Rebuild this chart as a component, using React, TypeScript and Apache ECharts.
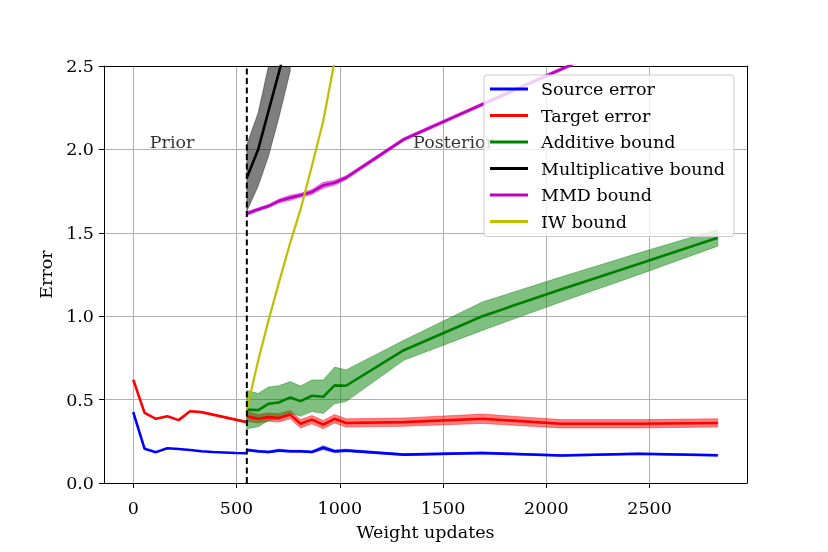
import React, { useEffect, useRef } from "react";
import * as echarts from "echarts";

const FONT = "'DejaVu Serif', 'Liberation Serif', serif";
const FS = 17.5;

// Prior phase (weight updates 0..550)
const priorX = [0, 55, 110, 165, 220, 275, 330, 385, 440, 495, 550];
const priorSource = [0.425, 0.205, 0.185, 0.208, 0.204, 0.198, 0.19, 0.186, 0.183, 0.18, 0.178];
const priorTarget = [0.62, 0.42, 0.385, 0.4, 0.377, 0.43, 0.425, 0.41, 0.395, 0.38, 0.365];

// Posterior phase
const postX = [550, 605, 655, 705, 760, 810, 865, 920, 975, 1030, 1310, 1690, 2070, 2450, 2830];
const postSource = [0.198, 0.19, 0.186, 0.195, 0.19, 0.19, 0.186, 0.212, 0.19, 0.195, 0.17, 0.18, 0.165, 0.175, 0.166];
const postSourceStd = [0.008, 0.006, 0.006, 0.008, 0.006, 0.006, 0.006, 0.012, 0.008, 0.008, 0.005, 0.006, 0.005, 0.005, 0.005];
const postTarget = [0.4, 0.385, 0.395, 0.39, 0.41, 0.355, 0.38, 0.35, 0.385, 0.36, 0.365, 0.385, 0.355, 0.355, 0.36];
const postTargetStd = [0.03, 0.025, 0.025, 0.025, 0.025, 0.025, 0.025, 0.025, 0.025, 0.025, 0.025, 0.028, 0.025, 0.025, 0.025];
const additive = [0.44, 0.437, 0.475, 0.483, 0.513, 0.491, 0.523, 0.517, 0.585, 0.583, 0.796, 1.0, 1.16, 1.315, 1.47];
const additiveStd = [0.115, 0.1, 0.1, 0.1, 0.095, 0.09, 0.095, 0.1, 0.11, 0.095, 0.06, 0.085, 0.075, 0.065, 0.05];
const mmd = [1.615, 1.64, 1.66, 1.69, 1.71, 1.725, 1.745, 1.785, 1.8, 1.83, 2.06, 2.27, 2.48, 2.69, 2.9];
const mmdStd = [0.012, 0.01, 0.01, 0.012, 0.015, 0.012, 0.015, 0.018, 0.015, 0.012, 0.01, 0.01, 0.01, 0.01, 0.01];

const multX = [550, 605, 655, 705, 760];
const mult = [1.83, 2.0, 2.23, 2.46, 2.72];
const multStd = [0.2, 0.22, 0.27, 0.27, 0.25];

const iwX = [550, 605, 655, 705, 760, 810, 865, 920, 975];
const iw = [0.44, 0.735, 0.975, 1.2, 1.44, 1.64, 1.9, 2.17, 2.53];

const phaseSplit = 550;
const annotations = [
  { x: 80, y: 2.0, text: "Prior" },
  { x: 1355, y: 2.0, text: "Posterior" },
];

const xMin = -141.5;
const xMax = 2971.5;
const xTickValues = [0, 500, 1000, 1500, 2000, 2500];
const legendNames = ["Source error", "Target error", "Additive bound", "Multiplicative bound", "MMD bound", "IW bound"];

const pairs = (xs: number[], ys: number[]) => xs.map((x, i) => [x, ys[i]]);

function band(xs: number[], mean: number[], std: number[], rgba: string) {
  return {
    type: "custom",
    name: "_band",
    silent: true,
    clip: true,
    data: [[xs[0], mean[0]]],
    encode: { x: 0, y: 1 },
    renderItem: (_params: any, api: any) => {
      const upper = xs.map((x, i) => api.coord([x, mean[i] + std[i]]));
      const lower = xs.map((x, i) => api.coord([x, mean[i] - std[i]])).reverse();
      return {
        type: "polygon",
        shape: { points: upper.concat(lower) },
        style: { fill: rgba, stroke: rgba, lineWidth: 0.8 },
      };
    },
  };
}

function line(name: string, xs: number[], ys: number[], color: string, width = 2.6) {
  return {
    type: "line", name, data: pairs(xs, ys), symbol: "none", silent: true, color,
    lineStyle: { width, color }, itemStyle: { color },
  };
}

const spine = { show: true, onZero: false, lineStyle: { color: "#000", width: 1 } };

export default function App() {
  const ref = useRef<HTMLDivElement>(null);
  useEffect(() => {
    if (!ref.current) return;
    const chart = echarts.init(ref.current, undefined, { renderer: "svg" });
    const option: any = {
      animation: false,
      textStyle: { fontFamily: FONT, color: "#000" },
      grid: { left: 104, right: 81, top: 66, bottom: 69 },
      legend: {
        data: legendNames,
        orient: "vertical",
        left: 484,
        top: 75,
        icon: "rect",
        itemWidth: 38,
        itemHeight: 3,
        itemGap: 6.5,
        selectedMode: false,
        backgroundColor: "rgba(255,255,255,0.8)",
        borderColor: "#cccccc",
        borderWidth: 1,
        borderRadius: 3,
        padding: [4, 9, 5, 6],
        textStyle: { fontFamily: FONT, fontSize: FS, color: "#000", lineHeight: 20, padding: [0, 0, 0, 8] },
      },
      xAxis: [
        {
          type: "value",
          min: xMin,
          max: xMax,
          splitNumber: 6,
          name: "Weight updates",
          nameLocation: "middle",
          nameGap: 38,
          nameTextStyle: { fontFamily: FONT, fontSize: FS, color: "#000", lineHeight: 20 },
          axisLine: spine,
          axisTick: { show: true, inside: false, length: 5, lineStyle: { color: "#000", width: 1 }, customValues: xTickValues },
          axisLabel: {
            customValues: xTickValues, margin: 14.5, fontFamily: FONT, fontSize: FS, color: "#000", lineHeight: 20,
            formatter: (v: number) => String(Math.round(v)),
          },
          splitLine: { show: true, lineStyle: { color: "#b0b0b0", width: 1 } },
        },
        {
          type: "value", position: "top", min: xMin, max: xMax,
          axisLine: spine, axisTick: { show: false }, axisLabel: { show: false }, splitLine: { show: false },
        },
      ],
      yAxis: [
        {
          type: "value",
          min: 0,
          max: 2.5,
          interval: 0.5,
          name: "Error",
          nameLocation: "middle",
          nameGap: 37,
          nameTextStyle: { fontFamily: FONT, fontSize: FS, color: "#000" },
          axisLine: spine,
          axisTick: { show: true, inside: false, length: 5, lineStyle: { color: "#000", width: 1 } },
          axisLabel: { margin: 10, fontFamily: FONT, fontSize: FS, color: "#000", formatter: (v: number) => v.toFixed(1) },
          splitLine: { show: true, lineStyle: { color: "#b0b0b0", width: 1 } },
        },
        {
          type: "value", position: "right", min: 0, max: 2.5,
          axisLine: spine, axisTick: { show: false }, axisLabel: { show: false }, splitLine: { show: false },
        },
      ],
      series: [
        line("Source error", priorX, priorSource, "#0000ff"),
        line("Target error", priorX, priorTarget, "#ff0000"),
        band(postX, postSource, postSourceStd, "rgba(0,0,255,0.5)"),
        line("Source error", postX, postSource, "#0000ff"),
        band(postX, postTarget, postTargetStd, "rgba(255,0,0,0.5)"),
        line("Target error", postX, postTarget, "#ff0000"),
        band(postX, additive, additiveStd, "rgba(0,128,0,0.5)"),
        line("Additive bound", postX, additive, "#008000"),
        band(multX, mult, multStd, "rgba(0,0,0,0.5)"),
        line("Multiplicative bound", multX, mult, "#000000"),
        band(postX, mmd, mmdStd, "rgba(191,0,191,0.5)"),
        line("MMD bound", postX, mmd, "#bf00bf"),
        line("IW bound", iwX, iw, "#bfbf00", 2.2),
        {
          type: "line", name: "_split", data: [[phaseSplit, 0], [phaseSplit, 2.5]], symbol: "none", silent: true,
          lineStyle: { color: "#000", width: 2, type: [6, 3.5] }, itemStyle: { color: "#000" },
        },
        {
          type: "scatter", name: "_notes", symbolSize: 0, silent: true,
          data: annotations.map((a) => [a.x, a.y]),
          label: {
            show: true, position: [0, 0], align: "left", verticalAlign: "middle", offset: [0, -7],
            fontFamily: FONT, fontSize: FS, color: "#000",
            formatter: (p: any) => annotations[p.dataIndex].text,
          },
          itemStyle: { color: "transparent" },
        },
      ],
    };
    chart.setOption(option);
    return () => chart.dispose();
  }, []);
  return <div ref={ref} style={{ position: "fixed", left: 0, top: 0, width: 828, height: 552 }} />;
}
